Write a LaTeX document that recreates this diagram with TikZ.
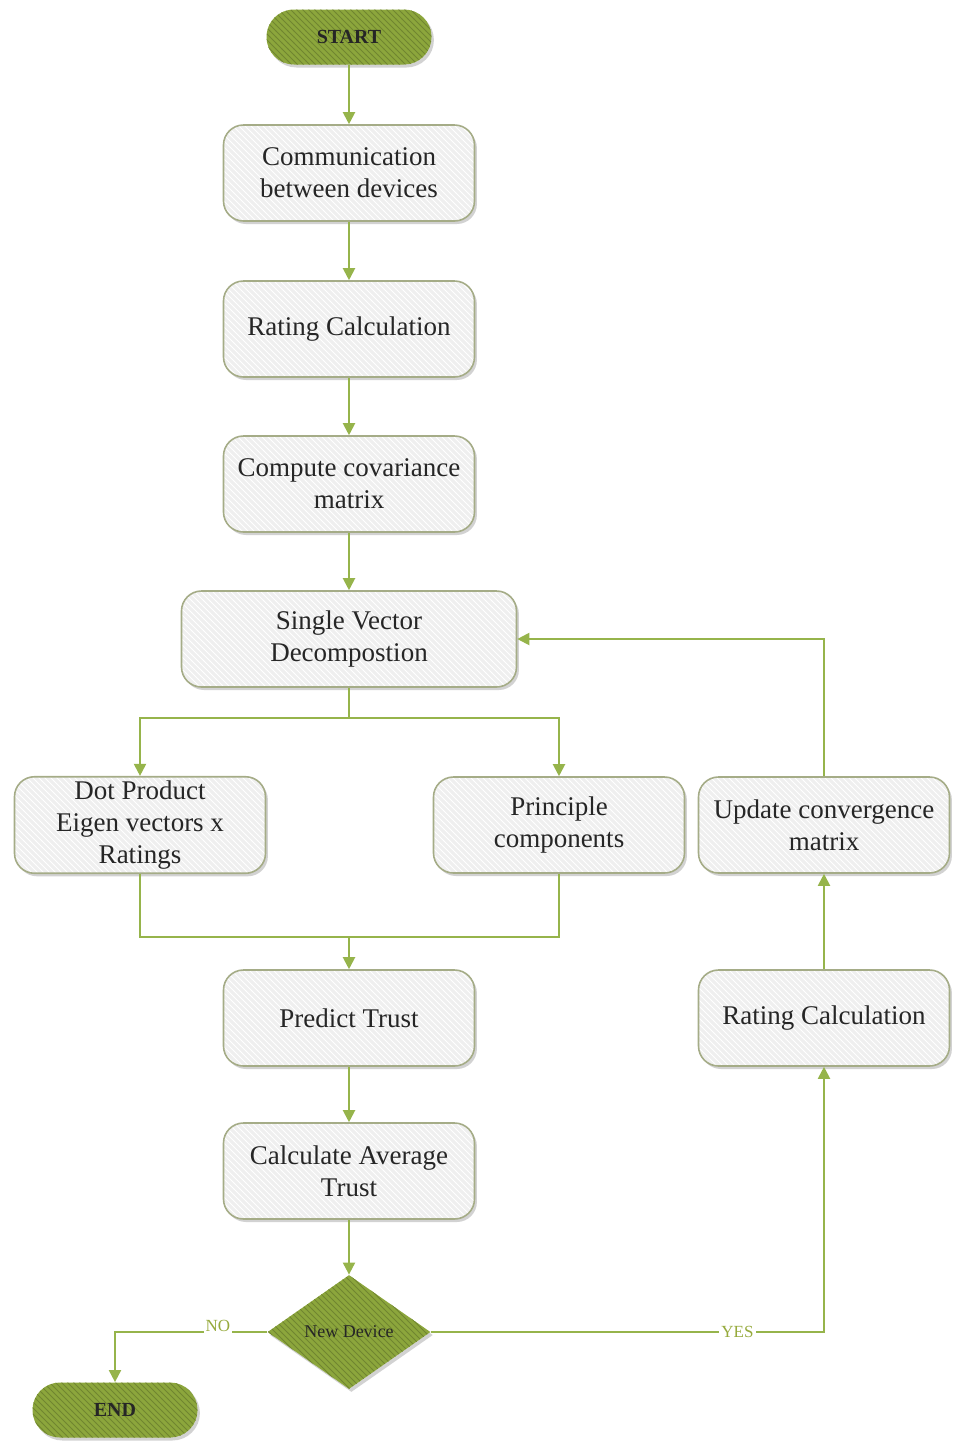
\documentclass[tikz,border=0pt]{standalone}
\usepackage{fontspec}
\setmainfont{Liberation Serif}
\usetikzlibrary{shapes.geometric,shadows,patterns,arrows.meta}
\definecolor{olivefill}{RGB}{140,166,60}
\definecolor{oliveline}{RGB}{150,180,75}
\definecolor{boxborder}{RGB}{165,172,135}
\definecolor{boxfill}{RGB}{239,239,239}
\definecolor{labelcol}{RGB}{150,170,60}
\begin{document}
\begin{tikzpicture}[x=0.5pt,y=-0.5pt,
  procbox/.style={
    drop shadow={shadow xshift=1.2pt, shadow yshift=-1.5pt, fill=black!35, opacity=0.5},
    preaction={fill=boxfill},
    preaction={pattern=north west lines, pattern color=white},
    draw=boxborder, line width=0.8pt, rounded corners=10pt,
    minimum width=125.5pt, minimum height=48pt, inner sep=2pt, align=center,
    font=\fontsize{13.5}{16}\selectfont, text=black!85},
  termbox/.style={
    drop shadow={shadow xshift=1.2pt, shadow yshift=-1.5pt, fill=black!35, opacity=0.5},
    preaction={fill=olivefill},
    preaction={pattern=north west lines, pattern color=olivefill!80!black},
    rounded corners=13.7pt, minimum width=82.5pt, minimum height=27.5pt,
    inner sep=0pt, font=\fontsize{10}{12}\selectfont\bfseries, text=black!85},
  decbox/.style={diamond,
    drop shadow={shadow xshift=1.2pt, shadow yshift=-1.5pt, fill=black!35, opacity=0.5},
    preaction={fill=olivefill},
    preaction={pattern=north west lines, pattern color=olivefill!80!black},
    minimum width=81.5pt, minimum height=57pt, aspect=1.43,
    inner sep=0pt, font=\fontsize{9}{11}\selectfont, text=black!85},
  conn/.style={draw=oliveline, line width=1pt},
  arr/.style={conn, -{Triangle[length=6pt,width=6pt]}},
  lbl/.style={font=\fontsize{8.5}{10}\selectfont, text=labelcol, fill=white, inner sep=1pt}
]
\useasboundingbox (0,0) rectangle (957,1441);

\node[termbox] (start) at (349,37) {START};
\node[procbox] (comm) at (349,173) {Communication\\between devices};
\node[procbox] (rate1) at (349,329) {Rating Calculation};
\node[procbox] (cov) at (349,484) {Compute covariance\\matrix};
\node[procbox, minimum width=167.5pt] (svd) at (349,639) {Single Vector\\Decompostion};
\node[procbox] (dot) at (140,825) {Dot Product\\Eigen vectors x\\Ratings};
\node[procbox] (pc) at (559,825) {Principle\\components};
\node[procbox] (upd) at (824,825) {Update convergence\\matrix};
\node[procbox] (pred) at (349,1018) {Predict Trust};
\node[procbox] (rate2) at (824,1018) {Rating Calculation};
\node[procbox] (avg) at (349,1171) {Calculate Average\\Trust};
\node[decbox] (dev) at (349,1332) {New Device};
\node[termbox] (end) at (115,1410) {END};

\coordinate (split) at (349,718);
\coordinate (merge) at (349,937);

\draw[arr] (start) -- (comm);
\draw[arr] (comm) -- (rate1);
\draw[arr] (rate1) -- (cov);
\draw[arr] (cov) -- (svd);
\draw[conn] (svd) -- (split);
\draw[arr] (split) -| (dot.north);
\draw[arr] (split) -| (pc.north);
\draw[conn] (dot.south) |- (merge);
\draw[conn] (pc.south) |- (merge);
\draw[arr] (merge) -- (pred);
\draw[arr] (pred) -- (avg);
\draw[arr] (avg) -- (dev);
\draw[arr] (dev.east) -| node[lbl, pos=0.39] {YES} (rate2.south);
\draw[arr] (rate2) -- (upd);
\draw[arr] (upd.north) |- (svd.east);
\draw[arr] (dev.west) -| (end.north);
\node[lbl, anchor=south] (no) at (218,1334) {NO};
\end{tikzpicture}
\end{document}
